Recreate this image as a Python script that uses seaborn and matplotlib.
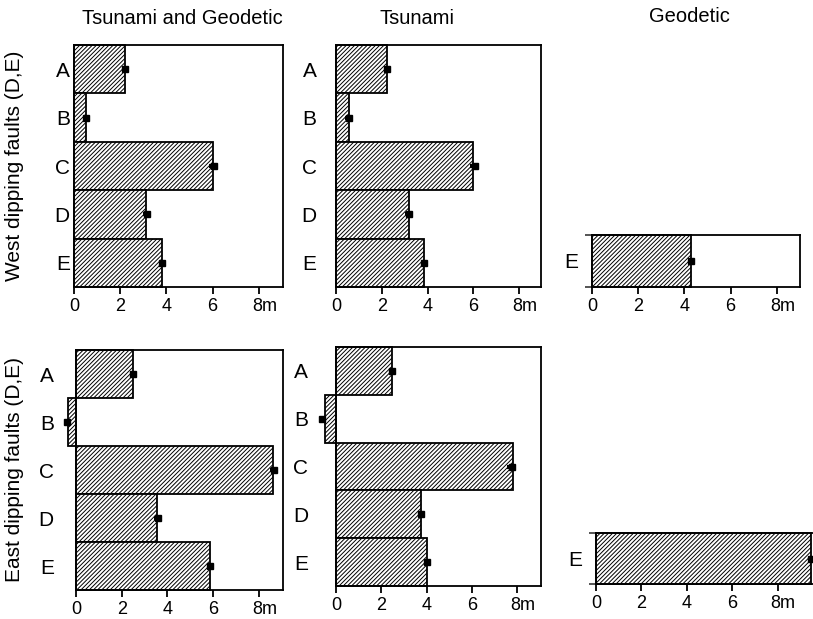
import matplotlib
matplotlib.use("Agg")
import matplotlib.pyplot as plt
import matplotlib.transforms as mtransforms
import seaborn as sns
import numpy as np

# ---------------- data ----------------
categories = ["A", "B", "C", "D", "E"]
geo_categories = ["E"]

west_tg = [2.2, 0.5, 6.0, 3.1, 3.8]
west_tg_est = [2.2, 0.5, 6.05, 3.15, 3.8]
west_tg_err = [0.08, 0.12, 0.2, 0.18, 0.08]

west_ts = [2.22, 0.55, 6.0, 3.17, 3.83]
west_ts_est = [2.22, 0.55, 6.05, 3.2, 3.83]
west_ts_err = [0.08, 0.15, 0.2, 0.18, 0.12]

west_geo = [4.3]
west_geo_est = [4.3]
west_geo_err = [0.06]

east_tg = [2.5, -0.35, 8.6, 3.55, 5.85]
east_tg_est = [2.5, -0.4, 8.65, 3.6, 5.85]
east_tg_err = [0.08, 0.12, 0.15, 0.18, 0.12]

east_ts = [2.47, -0.5, 7.8, 3.75, 4.03]
east_ts_est = [2.47, -0.6, 7.75, 3.75, 4.03]
east_ts_err = [0.08, 0.15, 0.2, 0.12, 0.1]

east_geo = [9.45]
east_geo_est = [9.45]
east_geo_err = [0.06]

xticks = [0, 2, 4, 6, 8]
xticklabels = ["0", "2", "4", "6", "8m"]

col_titles = ["Tsunami and Geodetic", "Tsunami", "Geodetic"]
row_titles = ["West dipping faults (D,E)", "East dipping faults (D,E)"]

# ---------------- style ----------------
sns.set_theme(style="white")
plt.rcParams["font.family"] = ["Liberation Sans", "DejaVu Sans"]
plt.rcParams["hatch.linewidth"] = 0.7
plt.rcParams["hatch.color"] = "black"
plt.rcParams["text.color"] = "black"

W, H = 813, 619
fig = plt.figure(figsize=(W / 100, H / 100), dpi=100)


def px_axes(left, top, right, bottom):
    return fig.add_axes([left / W, 1 - bottom / H, (right - left) / W, (bottom - top) / H])


def panel(ax, vals, est, err, cats, xmax, label_pad, edge_ticks=False):
    sns.barplot(x=vals, y=cats, orient="h", width=1.0, color="white",
                edgecolor="black", linewidth=1.3, ax=ax, saturation=1)
    for p in ax.patches:
        p.set_hatch("////////")
        p.set_facecolor("white")
        p.set_edgecolor("black")
        p.set_clip_on(False)
    eb = ax.errorbar(est, np.arange(len(cats)), xerr=err, fmt="s", color="black",
                     markersize=4, elinewidth=3, capsize=0, zorder=5)
    for art in eb.get_children():
        art.set_clip_on(False)
    ax.set_xlim(0, xmax)
    ax.set_ylim(len(cats) - 0.5, -0.5)
    ax.set_xticks(xticks)
    ax.set_xticklabels(xticklabels)
    ax.set_yticks(np.arange(len(cats)))
    ax.set_yticklabels(cats)
    if edge_ticks:
        ax.set_yticks(np.arange(len(cats) + 1) - 0.5, minor=True)
        ax.tick_params(axis="y", which="minor", length=5, width=1.1, left=True)
    ax.tick_params(axis="x", which="major", direction="out", length=5, width=1.3,
                   labelsize=13, pad=3, bottom=True, colors="black")
    ax.tick_params(axis="y", which="major", length=0, labelsize=15, pad=label_pad,
                   left=False, colors="black")
    for s in ax.spines.values():
        s.set_visible(True)
        s.set_color("black")
        s.set_linewidth(1.3)
    ax.set_xlabel("")
    ax.set_ylabel("")
    ax.grid(False)
    # shift "8m" so the 8 sits on its tick
    lbl = ax.get_xticklabels()[-1]
    lbl.set_horizontalalignment("left")
    lbl.set_transform(lbl.get_transform() + mtransforms.ScaledTranslation(-5 / 72, 0, fig.dpi_scale_trans))


ax1 = px_axes(74, 45, 283, 287)
panel(ax1, west_tg, west_tg_est, west_tg_err, categories, 9.05, 3)
ax2 = px_axes(336, 45, 541, 287)
panel(ax2, west_ts, west_ts_est, west_ts_err, categories, 8.95, 14)
ax3 = px_axes(592, 235, 800, 287)
panel(ax3, west_geo, west_geo_est, west_geo_err, geo_categories, 9.0, 10, edge_ticks=True)

ax4 = px_axes(76, 350, 283, 590)
panel(ax4, east_tg, east_tg_est, east_tg_err, categories, 9.05, 16)
ax5 = px_axes(336, 347, 541, 586)
panel(ax5, east_ts, east_ts_est, east_ts_err, categories, 9.05, 20)
ax6 = px_axes(596, 533, 823, 584)
panel(ax6, east_geo, east_geo_est, east_geo_err, geo_categories, 10.0, 10, edge_ticks=True)

fig.text(182 / W, 1 - 18 / H, col_titles[0], ha="center", va="center", fontsize=14.5)
fig.text(417 / W, 1 - 18 / H, col_titles[1], ha="center", va="center", fontsize=14.5)
fig.text(689 / W, 1 - 16 / H, col_titles[2], ha="center", va="center", fontsize=14.5)
fig.text(15 / W, 1 - 166 / H, row_titles[0], ha="center", va="center", rotation=90, fontsize=15)
fig.text(15 / W, 1 - 470 / H, row_titles[1], ha="center", va="center", rotation=90, fontsize=15)

fig.savefig("out.png", dpi=100, facecolor="white")
